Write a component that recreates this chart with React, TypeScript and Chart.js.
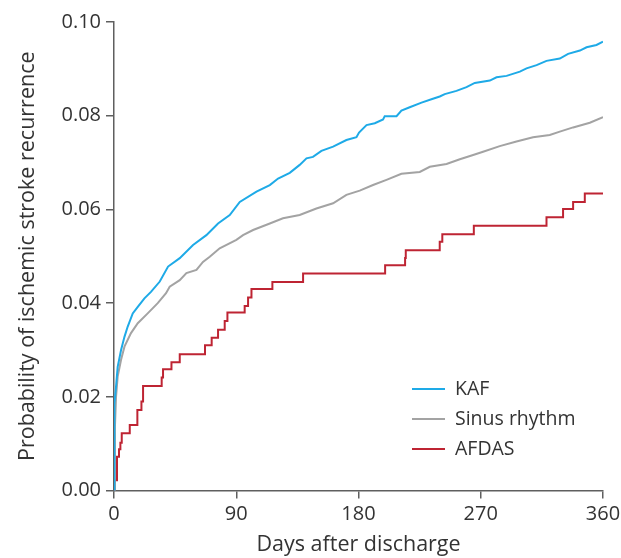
import { useEffect, useRef } from "react";
import { Chart, registerables } from "chart.js";

Chart.register(...registerables);

// ---- Data ----
const xTicks = [0, 90, 180, 270, 360];
const yTicks = [0, 0.02, 0.04, 0.06, 0.08, 0.1];
const seriesLabels = ["KAF", "Sinus rhythm", "AFDAS"];
const xTitle = "Days after discharge";
const yTitle = "Probability of ischemic stroke recurrence";

const kafDays = [0, 0.3, 1.5, 2.7, 5.2, 7.7, 10.1, 13.8, 17.5, 22.4, 27.2, 33.7, 39.8, 48.4, 58.2, 68.0, 76.6, 85.2, 92.6, 104.9, 114.7, 120.8, 129.4, 136.7, 141.7, 146.5, 152.7, 161.3, 171.1, 178.5, 180.4, 185.9, 192, 198.1, 199.3, 208, 211.6, 217.7, 226.4, 233.7, 239.8, 243.5, 252.1, 259.5, 265.6, 276.7, 281.6, 289, 298.8, 303.7, 311.1, 318.4, 328.2, 334.3, 343, 347.9, 355.2, 360];
const kafProb = [0, 0.0186, 0.0222, 0.0264, 0.03, 0.0328, 0.035, 0.0378, 0.0392, 0.041, 0.0424, 0.0446, 0.0478, 0.0496, 0.0524, 0.0545, 0.057, 0.0588, 0.0616, 0.0638, 0.0652, 0.0666, 0.0678, 0.0695, 0.0709, 0.0712, 0.0725, 0.0734, 0.0748, 0.0754, 0.0764, 0.078, 0.0784, 0.0792, 0.0799, 0.0799, 0.0811, 0.0818, 0.0828, 0.0835, 0.0841, 0.0846, 0.0853, 0.0861, 0.087, 0.0875, 0.0882, 0.0885, 0.0894, 0.0901, 0.0908, 0.0917, 0.0922, 0.0932, 0.0939, 0.0946, 0.0951, 0.0958];

const srDays = [0, 0.7, 1.5, 2.7, 5.2, 7.7, 12.5, 17.5, 24.8, 32.2, 38.3, 41.0, 48.4, 53.3, 60.7, 65.5, 70.5, 77.8, 90.1, 95, 102.4, 114.7, 124.4, 136.7, 149, 161.3, 171.1, 180.9, 190.7, 200.6, 211.6, 225.1, 232.5, 244.8, 254.6, 264.4, 271.7, 284, 296.3, 308.5, 320.8, 328.2, 338, 350.3, 360];
const srProb = [0, 0.0136, 0.02, 0.0243, 0.0279, 0.0307, 0.0336, 0.0357, 0.0378, 0.04, 0.0421, 0.0435, 0.0449, 0.0464, 0.0471, 0.0488, 0.0499, 0.0517, 0.0535, 0.0545, 0.0556, 0.057, 0.0581, 0.0588, 0.0602, 0.0613, 0.0631, 0.064, 0.0652, 0.0663, 0.0676, 0.068, 0.0691, 0.0697, 0.0707, 0.0716, 0.0723, 0.0735, 0.0745, 0.0754, 0.0759, 0.0766, 0.0775, 0.0785, 0.0797];

const afDays = [0, 0.5, 2.2, 3.7, 4.7, 5.7, 11.6, 17.2, 20.2, 21.4, 35.1, 36.1, 42.3, 48.4, 67.0, 71.9, 76.6, 81.5, 83.5, 96.2, 98.7, 101.2, 116.6, 139.2, 199.6, 214.3, 214.8, 239.8, 241.7, 264.9, 318.4, 330.6, 338.0, 346.6, 360];
const afProb = [0, 0.0022, 0.0072, 0.0088, 0.0102, 0.0122, 0.014, 0.0172, 0.019, 0.0223, 0.0241, 0.0259, 0.0274, 0.0291, 0.031, 0.0326, 0.0343, 0.0362, 0.038, 0.0394, 0.0412, 0.043, 0.0445, 0.0463, 0.0481, 0.0496, 0.0513, 0.0531, 0.0547, 0.0565, 0.0583, 0.0601, 0.0616, 0.0634, 0.0634];

// ---- Styles ----
const FONT = "'Open Sans', 'Noto Sans', sans-serif";
const TEXT = "#333333";
const AXIS = "#5f5f5f";
const COLORS = ["#1eaae7", "#a3a3a3", "#be2433"];

const toXY = (xs: number[], ys: number[]) => xs.map((x, i) => ({ x, y: ys[i] }));

const insetLegend = {
  id: "insetLegend",
  afterDraw(chart: any, _args: any, opts: any) {
    const { ctx, chartArea } = chart;
    ctx.save();
    ctx.font = `${opts.fontSize}px ${FONT}`;
    ctx.textBaseline = "middle";
    ctx.textAlign = "left";
    chart.data.datasets.forEach((ds: any, i: number) => {
      const x = chartArea.left + opts.offsetX;
      const y = chartArea.bottom + opts.offsetY + i * opts.rowGap;
      ctx.strokeStyle = ds.borderColor;
      ctx.lineWidth = 2;
      ctx.beginPath();
      ctx.moveTo(x, y);
      ctx.lineTo(x + opts.lineLen, y);
      ctx.stroke();
      ctx.fillStyle = TEXT;
      ctx.fillText(ds.label, x + opts.lineLen + opts.gap, y);
    });
    ctx.restore();
  },
};

export default function App() {
  const ref = useRef<HTMLCanvasElement | null>(null);

  useEffect(() => {
    if (!ref.current) return;
    const chart = new Chart(ref.current, {
      type: "line",
      data: {
        datasets: [
          {
            label: seriesLabels[0],
            data: toXY(kafDays, kafProb),
            borderColor: COLORS[0],
            borderWidth: 2,
            pointRadius: 0,
            tension: 0,
            fill: false,
          },
          {
            label: seriesLabels[1],
            data: toXY(srDays, srProb),
            borderColor: COLORS[1],
            borderWidth: 2,
            pointRadius: 0,
            tension: 0,
            fill: false,
          },
          {
            label: seriesLabels[2],
            data: toXY(afDays, afProb),
            borderColor: COLORS[2],
            borderWidth: 2,
            pointRadius: 0,
            stepped: "before",
            fill: false,
          },
        ],
      },
      options: {
        animation: false,
        responsive: false,
        devicePixelRatio: 1,
        layout: { padding: { left: 0, right: 18, top: 22, bottom: 0 } },
        plugins: {
          legend: { display: false },
          tooltip: { enabled: false },
          insetLegend: { offsetX: 298, offsetY: -101.5, rowGap: 30, lineLen: 33, gap: 10, fontSize: 19.5 },
        } as any,
        scales: {
          x: {
            type: "linear",
            min: 0,
            max: 360,
            afterBuildTicks: (s: any) => {
              s.ticks = xTicks.map((v) => ({ value: v }));
            },
            afterFit: (s: any) => {
              s.height = 67.5;
              s.paddingLeft = 0;
              s.paddingRight = 0;
            },
            ticks: {
              autoSkip: false,
              maxRotation: 0,
              padding: 4,
              color: TEXT,
              font: { family: FONT, size: 20 },
              callback: (v: any) => String(v),
            },
            grid: { drawOnChartArea: false, drawTicks: true, tickLength: 8, color: AXIS, lineWidth: 1.5 },
            border: { display: true, color: AXIS, width: 1.5 },
            title: {
              display: true,
              text: xTitle,
              color: TEXT,
              font: { family: FONT, size: 21.5 },
              padding: { top: 0, bottom: 0 },
            },
          },
          y: {
            type: "linear",
            min: 0,
            max: 0.1,
            afterBuildTicks: (s: any) => {
              s.ticks = yTicks.map((v) => ({ value: v }));
            },
            afterFit: (s: any) => {
              s.width = 114;
              s.paddingTop = 0;
              s.paddingBottom = 0;
            },
            ticks: {
              padding: 5,
              color: TEXT,
              font: { family: FONT, size: 20 },
              callback: (v: any) => Number(v).toFixed(2),
            },
            grid: { drawOnChartArea: false, drawTicks: true, tickLength: 8, color: AXIS, lineWidth: 1.5 },
            border: { display: true, color: AXIS, width: 1.5 },
            title: {
              display: true,
              text: yTitle,
              color: TEXT,
              font: { family: FONT, size: 21.5 },
              padding: { top: 15, bottom: 0 },
            },
          },
        },
      },
      plugins: [insetLegend],
    } as any);
    if ((document as any).fonts?.ready) {
      (document as any).fonts.ready.then(() => chart.update());
    }
    return () => chart.destroy();
  }, []);

  return (
    <div style={{ position: "absolute", left: 0, top: 0, width: 621, height: 558 }}>
      <canvas ref={ref} width={621} height={558} style={{ display: "block" }} />
    </div>
  );
}
